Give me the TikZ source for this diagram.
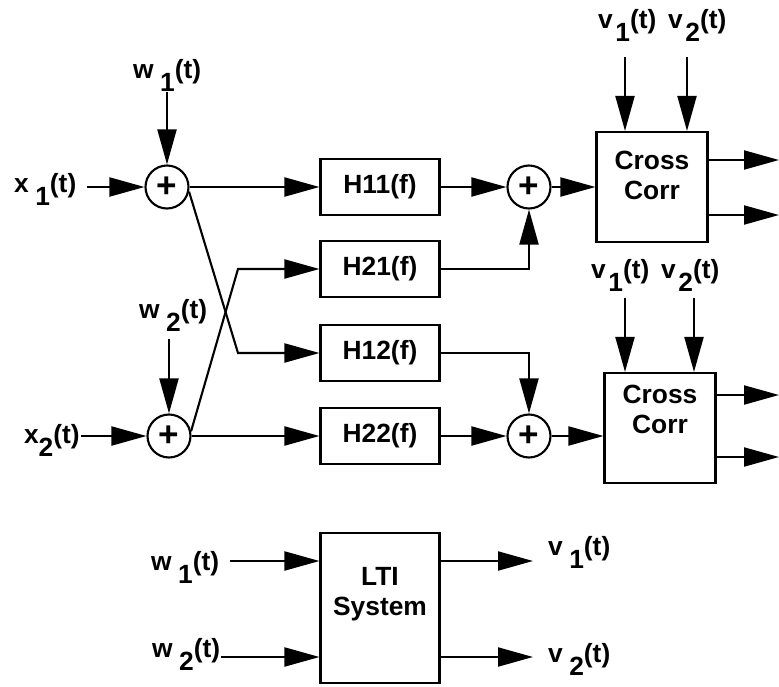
\documentclass[tikz,border=0pt]{standalone}
\usepackage{fontspec}
\setmainfont{Liberation Sans}
\usetikzlibrary{arrows.meta,calc}

\newcommand{\sg}[3][0pt]{#2\hspace{#1}\raisebox{-0.5em}{#3}(t)}

\begin{document}
\begin{tikzpicture}[
    x=0.02cm, y=-0.02cm, line width=1.2pt,
    font=\fontsize{15}{17}\selectfont\bfseries,
    sig/.style={-{Triangle[length=0.7cm,width=0.38cm]}},
    sum/.style={circle, draw, minimum size=0.86cm, inner sep=0pt, font=\fontsize{20}{20}\selectfont\bfseries},
    filt/.style={draw, minimum width=2.38cm, minimum height=1.12cm},
    corr/.style={draw, minimum width=2.22cm, minimum height=2.2cm},
    lbl/.style={inner sep=0pt, anchor=base west},
]
\useasboundingbox (0,0) rectangle (779,687);

% summers and filters
\node[sum] (s1) at (167,187) {+};
\node[sum] (s2) at (169,436) {+};
\node[filt] (h11) at (380,187) {H11(f)};
\node[filt] (h21) at (380,269) {H21(f)};
\node[filt] (h12) at (380,353) {H12(f)};
\node[filt] (h22) at (380,436) {H22(f)};
\node[sum] (s3) at (529,187) {+};
\node[sum] (s4) at (529,436) {+};

% cross correlators
\node[corr] (cc1) at (652,187) {};
\node[corr] (cc2) at (660,428) {};
\node[align=center] (cc1txt) at (652,175) {Cross\\Corr};
\node[align=center] (cc2txt) at (660,409) {Cross\\Corr};

% signal labels
\node[lbl] (x1) at (13,192) {\sg[0.25em]{x}{1}\hspace{0.2em}};
\node[lbl] (w1) at (132,78) {\sg[0.25em]{w}{1}};
\node[lbl] (x2) at (23,443) {\sg{x}{2}};
\node[lbl] (w2) at (138,318) {\sg[0.25em]{w}{2}};
\node[lbl] (v11) at (597,28) {\sg[0.1em]{v}{1}};
\node[lbl] (v12) at (667,28) {\sg[0.1em]{v}{2}};
\node[lbl] (v21) at (590,278) {\sg[0.1em]{v}{1}};
\node[lbl] (v22) at (660,278) {\sg[0.1em]{v}{2}};

% inputs
\draw[sig, shorten <=0.2cm] (x1.east |- s1) -- (s1);
\draw[sig] (w1.south -| s1) -- (s1);
\draw[sig] (x2.east |- s2) -- (s2);
\draw[sig, shorten <=0.14cm] (w2.south -| s2) -- (s2);

% paths through the filters
\coordinate (c21) at (238,269);
\coordinate (c12) at (238,353);
\draw[sig] (s1) -- (h11);
\draw[sig] (s2) -- (h22);
\draw[sig] (s1.-12) -- (c12) -- (h12);
\draw[sig] (s2.12) -- (c21) -- (h21);
\draw[sig] (h11) -- (s3);
\draw[sig] (h21) -| (s3);
\draw[sig] (h12) -| (s4);
\draw[sig] (h22) -- (s4);
\draw[sig] (s3) -- (cc1);
\draw[sig] (s4) -- (s4 -| cc2.west);

% references into the correlators
\coordinate (a11) at (625,57);
\coordinate (a12) at (687,57);
\coordinate (a21) at (625,298);
\coordinate (a22) at (694,298);
\draw[sig] (a11) -- (a11 |- cc1.north);
\draw[sig] (a12) -- (a12 |- cc1.north);
\draw[sig] (a21) -- (a21 |- cc2.north);
\draw[sig] (a22) -- (a22 |- cc2.north);

% outputs
\coordinate (o11) at (779,160);
\coordinate (o12) at (779,215);
\coordinate (o21) at (779,395);
\coordinate (o22) at (779,457);
\draw[sig] (o11 -| cc1.east) -- (o11);
\draw[sig] (o12 -| cc1.east) -- (o12);
\draw[sig] (o21 -| cc2.east) -- (o21);
\draw[sig] (o22 -| cc2.east) -- (o22);

% LTI system
\node[draw, minimum width=2.38cm, minimum height=3cm] (lti) at (380,608) {};
\node[align=center] (ltitxt) at (380,594) {LTI\\System};
\node[lbl] (lw1) at (150,570) {\sg[0.25em]{w}{1}};
\node[lbl] (lw2) at (151,657) {\sg[0.25em]{w}{2}};
\node[lbl] (lv1) at (547,555) {\sg[0.25em]{v}{1}};
\node[lbl] (lv2) at (547,662) {\sg[0.25em]{v}{2}};
\coordinate (p1) at (0,561);
\coordinate (p2) at (0,657);
\draw[sig, shorten <=0.2cm] (lw1.east |- p1) -- (lti.west |- p1);
\draw[sig] (lw2.east |- p2) -- (lti.west |- p2);
\draw[sig, shorten >=0.28cm] (lti.east |- p1) -- (lv1.west |- p1);
\draw[sig, shorten >=0.28cm] (lti.east |- p2) -- (lv2.west |- p2);
\end{tikzpicture}
\end{document}
